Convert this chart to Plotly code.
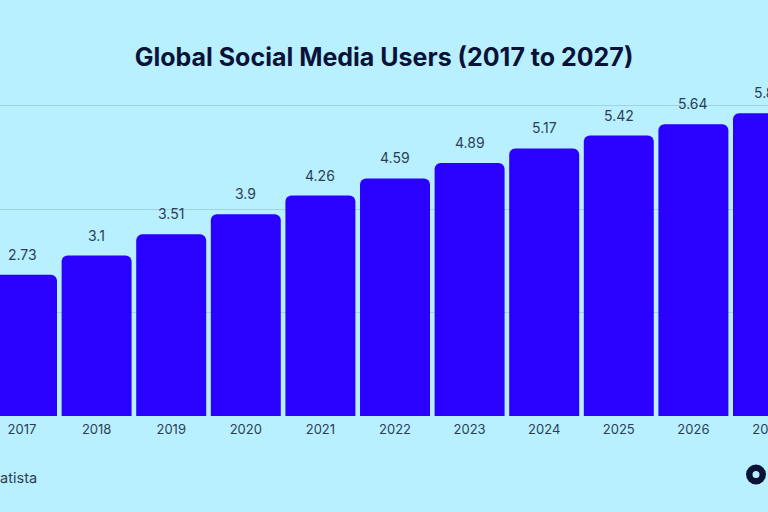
import plotly.graph_objects as go

years = ["2017", "2018", "2019", "2020", "2021", "2022", "2023", "2024", "2025", "2026", "2027"]
users = [2.73, 3.1, 3.51, 3.9, 4.26, 4.59, 4.89, 5.17, 5.42, 5.64, 5.85]
labels = ["2.73", "3.1", "3.51", "3.9", "4.26", "4.59", "4.89", "5.17", "5.42", "5.64", "5.85"]

BG = "#b8f0ff"
INK = "#2c3e55"
NAVY = "#0b1238"

fig = go.Figure(go.Bar(
    x=years, y=users,
    marker=dict(color="#2a00ff", cornerradius=6, line=dict(width=0)),
))
value_labels = [
    dict(x=i, y=v, text=t, xref="x", yref="y", yshift=10, yanchor="bottom", showarrow=False,
         font=dict(family="Inter", size=14, color=INK))
    for i, (v, t) in enumerate(zip(users, labels))
]
fig.update_layout(
    width=768, height=512, autosize=False, paper_bgcolor=BG, plot_bgcolor=BG,
    margin=dict(l=0, r=0, t=90, b=96, pad=0), bargap=0.062, showlegend=False,
    title=dict(text="<b>Global Social Media Users (2017 to 2027)</b>", x=0.5, xanchor="center",
               y=0.889, yanchor="middle", font=dict(family="Inter", size=25, color=NAVY)),
    xaxis=dict(type="category", range=[-0.295, 10.0], showgrid=False, showline=False, ticks="",
               automargin=False,
               tickfont=dict(family="Inter", size=13, color=INK), ticklabelstandoff=4),
    yaxis=dict(range=[0, 6.3], dtick=2, showticklabels=False, gridcolor="#9fd3e3", gridwidth=1,
               automargin=False, zeroline=False, showline=False),
    annotations=value_labels + [
        dict(text="Statista", xref="paper", yref="paper", x=39 / 768, y=(512 - 477 - 96) / 326,
             xanchor="right", yanchor="middle", showarrow=False,
             font=dict(family="Inter", size=14.5, color=INK))],
    shapes=[
        dict(type="circle", xref="paper", yref="paper", x0=746 / 768, x1=766 / 768,
             y0=(512 - 484.5 - 96) / 326, y1=(512 - 464.5 - 96) / 326, fillcolor=NAVY, line_width=0),
        dict(type="circle", xref="paper", yref="paper", x0=752.5 / 768, x1=759.5 / 768,
             y0=(512 - 478 - 96) / 326, y1=(512 - 471 - 96) / 326, fillcolor=BG, line_width=0),
    ],
)
fig.write_html(
    "out.html",
    config=dict(responsive=False, displayModeBar=False),
    default_width="768px", default_height="512px",
    post_script="document.body.style.margin='0';document.body.style.overflow='hidden';",
)
